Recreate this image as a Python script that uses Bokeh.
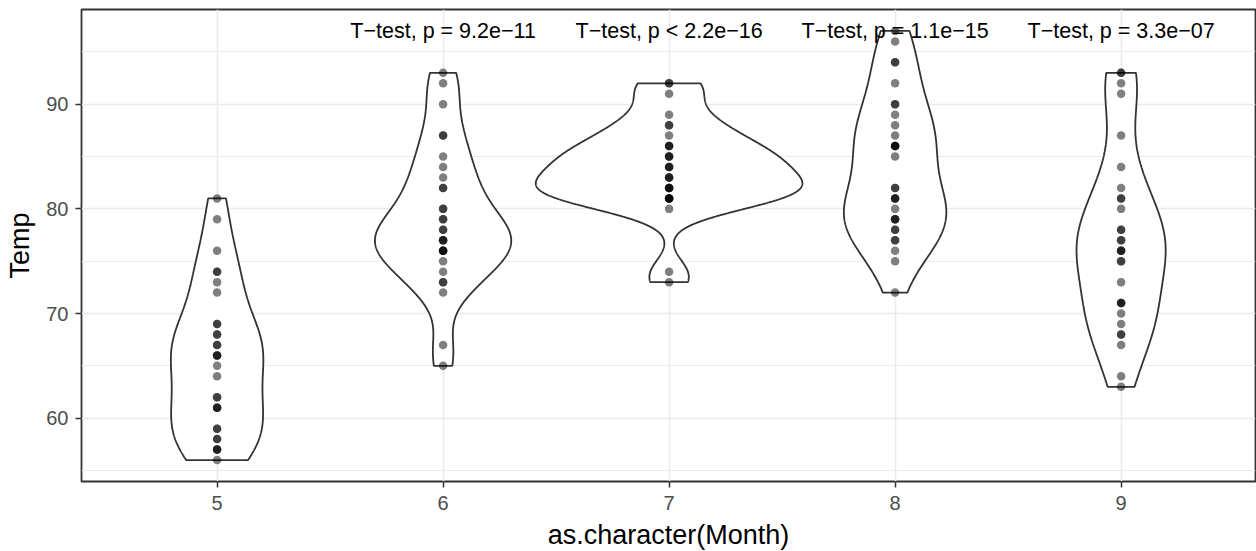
import numpy as np
from bokeh.plotting import figure
from bokeh.models import FixedTicker, Range1d
from bokeh.embed import file_html
from bokeh.resources import INLINE
from bokeh.core.properties import value

# ---- data (airquality Temp by Month) ----
month_labels = ["5", "6", "7", "8", "9"]
temp_may = [67, 72, 74, 62, 56, 66, 65, 59, 61, 69, 74, 69, 66, 68, 58, 64, 66, 57, 68, 62,
            59, 73, 61, 61, 57, 58, 57, 67, 81, 79, 76]
temp_jun = [78, 74, 67, 84, 85, 79, 82, 87, 90, 87, 93, 92, 82, 80, 79, 77, 72, 65, 73, 76,
            77, 76, 76, 76, 75, 78, 73, 80, 77, 83]
temp_jul = [84, 85, 81, 84, 83, 83, 88, 92, 92, 89, 82, 73, 81, 91, 80, 81, 82, 84, 87, 85,
            74, 81, 82, 86, 85, 82, 86, 88, 86, 83, 81]
temp_aug = [81, 81, 82, 86, 85, 87, 89, 90, 90, 92, 86, 86, 82, 80, 79, 77, 79, 76, 78, 78,
            77, 72, 75, 79, 81, 86, 88, 97, 94, 96, 94]
temp_sep = [91, 92, 93, 93, 87, 84, 80, 78, 75, 73, 81, 76, 77, 71, 71, 78, 67, 76, 68, 82,
            64, 71, 81, 69, 63, 70, 77, 75, 76, 68]
groups = [temp_may, temp_jun, temp_jul, temp_aug, temp_sep]

test_months = ["6", "7", "8", "9"]
test_labels = ["T\u2212test, p = 9.2e\u221211", "T\u2212test, p < 2.2e\u221216",
               "T\u2212test, p = 1.1e\u221215", "T\u2212test, p = 3.3e\u221207"]

y_ticks = [60, 70, 80, 90]
y_minor = [55, 65, 75, 85, 95]

# style: drawn width of each violin (in category units)
violin_widths = [0.9, 0.9, 1.18, 0.9, 0.9]
FONT = "Liberation Sans"


def bw_nrd0(x):
    x = np.asarray(x, float)
    sd = x.std(ddof=1)
    q75, q25 = np.percentile(x, [75, 25])
    lo = min(sd, (q75 - q25) / 1.34)
    if lo == 0:
        lo = sd if sd > 0 else 1.0
    return 0.9 * lo * len(x) ** (-0.2)


def kde(x, grid):
    x = np.asarray(x, float)
    bw = bw_nrd0(x)
    d = (grid[:, None] - x[None, :]) / bw
    return np.exp(-0.5 * d * d).sum(1) / (len(x) * bw * np.sqrt(2 * np.pi))


positions = [i + 1 for i in range(len(month_labels))]
grids, dens = [], []
for g in groups:
    grid = np.linspace(min(g), max(g), 512)
    grids.append(grid)
    dens.append(kde(g, grid))
dmax = max(d.max() for d in dens)

vx, vy = [], []
for pos, grid, d, w in zip(positions, grids, dens, violin_widths):
    hw = d / dmax * w / 2
    xs = np.concatenate([pos + hw, (pos - hw)[::-1]])
    ys = np.concatenate([grid, grid[::-1]])
    vx.append(list(xs) + [xs[0]])
    vy.append(list(ys) + [ys[0]])

px, py = [], []
for pos, g in zip(positions, groups):
    px += [pos] * len(g)
    py += list(g)

ymin = min(min(g) for g in groups)
ymax = max(max(g) for g in groups)
pad = (ymax - ymin) * 0.05

FW, FH = 1174, 472
p = figure(frame_width=FW, frame_height=FH,
           x_range=Range1d(0.4, 0.4 + FW / 226.0),
           y_range=Range1d(ymin - pad, ymax + pad),
           output_backend="svg", toolbar_location=None,
           min_border_top=9, min_border_right=1, min_border_left=81, min_border_bottom=10,
           background_fill_color="white", border_fill_color="white")

p.patches(xs=vx, ys=vy, fill_color="white", line_color="#333333", line_width=1.8)
p.scatter(x=px, y=py, size=8.5, fill_color="black", fill_alpha=0.5, line_color=None)

tpos = [positions[month_labels.index(m)] for m in test_months]
p.text(x=tpos, y=[ymax] * len(tpos), text=test_labels, text_align="center",
       text_baseline="middle", text_font=value(FONT), text_font_size="21.5px",
       text_color="black")

p.xaxis.ticker = FixedTicker(ticks=positions, minor_ticks=[])
p.xaxis.major_label_overrides = {pos: lab for pos, lab in zip(positions, month_labels)}
p.yaxis.ticker = FixedTicker(ticks=y_ticks, minor_ticks=y_minor)
p.xaxis.axis_label = "as.character(Month)"
p.yaxis.axis_label = "Temp"

for ax in (p.xaxis, p.yaxis):
    ax.axis_line_color = None
    ax.major_tick_line_color = "#333333"
    ax.major_tick_line_width = 1.5
    ax.major_tick_out = 6
    ax.major_tick_in = 0
    ax.minor_tick_out = 0
    ax.minor_tick_in = 0
    ax.major_label_text_font = FONT
    ax.major_label_text_font_size = "20px"
    ax.major_label_text_color = "#4D4D4D"
    ax.axis_label_text_font = FONT
    ax.axis_label_text_font_size = "27px"
    ax.axis_label_text_font_style = "normal"
    ax.axis_label_text_color = "black"

p.xaxis.major_label_standoff = 8
p.xaxis.axis_label_standoff = 7
p.yaxis.major_label_standoff = 7
p.yaxis.axis_label_standoff = 8

p.xgrid.grid_line_color = "#EBEBEB"
p.xgrid.grid_line_width = 1.6
p.xgrid.minor_grid_line_color = None
p.ygrid.grid_line_color = "#EBEBEB"
p.ygrid.grid_line_width = 1.6
p.ygrid.minor_grid_line_color = "#EBEBEB"
p.ygrid.minor_grid_line_width = 1.0

p.outline_line_color = "#333333"
p.outline_line_width = 1.8

open("out.html", "w").write(file_html(p, INLINE))
